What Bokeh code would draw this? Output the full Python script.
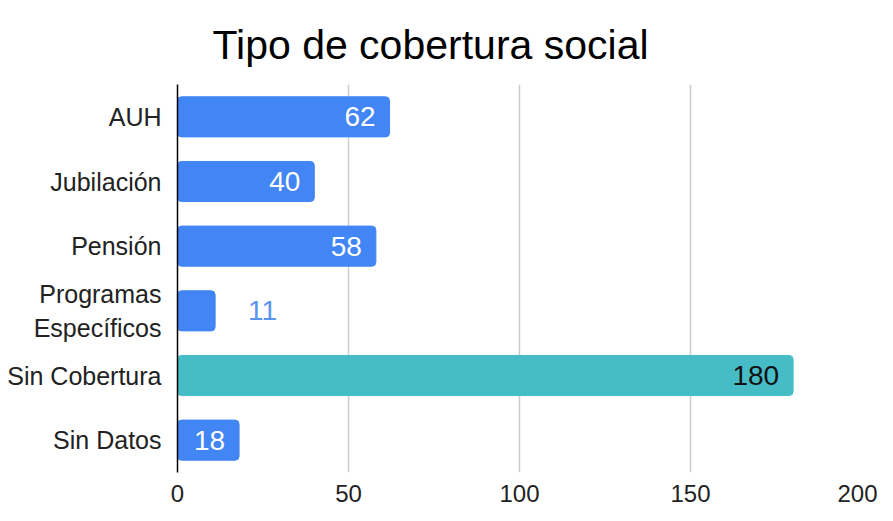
from bokeh.plotting import figure
from bokeh.models import ColumnDataSource, Range1d, FixedTicker, FactorRange
from bokeh.core.properties import value
from bokeh.embed import file_html
from bokeh.resources import INLINE

title_text = "Tipo de cobertura social"
categories = ["AUH", "Jubilación", "Pensión", "Programas\nEspecíficos", "Sin Cobertura", "Sin Datos"]
counts = [62, 40, 58, 11, 180, 18]
x_ticks = [0, 50, 100, 150, 200]

FONT = "Liberation Sans"
BLUE = "#4285f4"
TEAL = "#46bdc6"

colors = [TEAL if c == "Sin Cobertura" else BLUE for c in categories]
inside = [v >= 15 for v in counts]
label_x_off = [-14 if ins else 33 for ins in inside]
label_align = ["right" if ins else "left" for ins in inside]
label_color = []
for c, ins in zip(categories, inside):
    if not ins:
        label_color.append("#5b95f0")
    elif c == "Sin Cobertura":
        label_color.append("#111111")
    else:
        label_color.append("#ffffff")

src = ColumnDataSource(dict(cat=categories, val=counts, color=colors,
                            xo=label_x_off, al=label_align, lc=label_color,
                            txt=[str(v) for v in counts]))

p = figure(width=877, height=505, output_backend="svg", toolbar_location=None,
           y_range=FactorRange(factors=list(reversed(categories)), range_padding=0),
           x_range=Range1d(0, 200),
           min_border_left=177, min_border_right=16, min_border_top=84, min_border_bottom=33)

p.title.text = title_text
p.title.align = "left"
p.title.offset = 35
p.title.standoff = 34
p.title.text_font = FONT
p.title.text_font_size = "41px"
p.title.text_font_style = "normal"
p.title.text_color = "#000000"

p.hbar(y="cat", right="val", left=0, height=0.62, color="color", source=src, border_radius=4)
p.text(x="val", y="cat", text="txt", x_offset="xo", text_align="al", text_baseline="middle",
       text_color="lc", text_font=value(FONT), text_font_size="28px", source=src)

p.outline_line_color = None
p.background_fill_color = "white"

p.xaxis.ticker = FixedTicker(ticks=x_ticks)
p.xaxis.axis_line_color = None
p.xaxis.major_tick_line_color = None
p.xaxis.minor_tick_line_color = None
p.xaxis.major_label_text_font = FONT
p.xaxis.major_label_text_font_size = "24px"
p.xaxis.major_label_text_color = "#222222"
p.xaxis.major_label_standoff = 6

p.yaxis.axis_line_color = "#000000"
p.yaxis.axis_line_width = 1.5
p.yaxis.major_tick_line_color = None
p.yaxis.minor_tick_line_color = None
p.yaxis.major_label_text_font = FONT
p.yaxis.major_label_text_font_size = "25px"
p.yaxis.major_label_text_color = "#222222"
p.yaxis.major_label_standoff = 10

p.ygrid.grid_line_color = None
p.xgrid.grid_line_color = "#cccccc"
p.xgrid.grid_line_width = 1.5

open("out.html", "w").write(file_html(p, INLINE))
